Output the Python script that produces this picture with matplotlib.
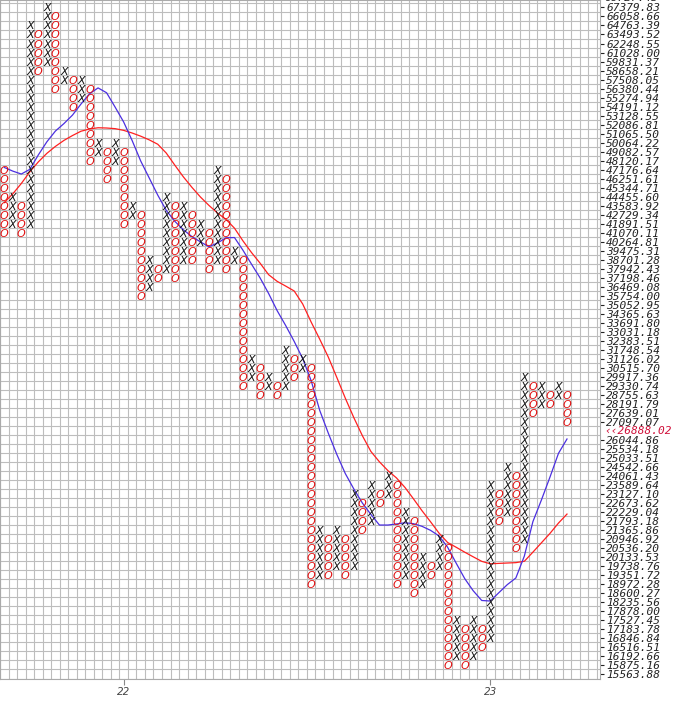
import numpy as np
import matplotlib
matplotlib.use("Agg")
import matplotlib.pyplot as plt
from matplotlib.ticker import NullFormatter

# === 箱体价位 (2% 一格, 从下到上) ===
levels = [15563.88, 15875.16, 16192.66, 16516.51, 16846.84, 17183.78, 17527.45, 17878.00,
          18235.56, 18600.27, 18972.28, 19351.72, 19738.76, 20133.53, 20536.20, 20946.92,
          21365.86, 21793.18, 22229.04, 22673.62, 23127.10, 23589.64, 24061.43, 24542.66,
          25033.51, 25534.18, 26044.86, 26565.75, 27097.07, 27639.01, 28191.79, 28755.63,
          29330.74, 29917.36, 30515.70, 31126.02, 31748.54, 32383.51, 33031.18, 33691.80,
          34365.63, 35052.95, 35754.00, 36469.08, 37198.46, 37942.43, 38701.28, 39475.31,
          40264.81, 41070.11, 41891.51, 42729.34, 43583.92, 44455.60, 45344.71, 46251.61,
          47176.64, 48120.17, 49082.57, 50064.22, 51065.50, 52086.81, 53128.55, 54191.12,
          55274.94, 56380.44, 57508.05, 58658.21, 59831.37, 61028.00, 62248.55, 63493.52,
          64763.39, 66058.66, 67379.83, 68727.43]

# === 每列: 类型, 最高格, 最低格 ===
col_kind = list("OXOXOXOXOXOXOXOXOXOXOXOXOXOXOXOXOXOXOXOXOXOXOXOXOXOXOXOXOXOXOXOXOXO")
col_top = [56, 53, 52, 72, 71, 74, 73, 67, 66, 66, 65, 59, 58, 59, 58, 52, 51, 46, 45, 53,
           52, 52, 51, 50, 49, 56, 55, 47, 46, 35, 34, 33, 32, 36, 35, 35, 34, 16, 15, 16,
           15, 20, 19, 21, 20, 22, 21, 18, 17, 13, 12, 15, 14, 6, 5, 6, 5, 21, 20, 23,
           22, 33, 32, 32, 31, 32, 31]
col_bot = [49, 50, 49, 50, 67, 68, 65, 66, 63, 64, 57, 58, 55, 57, 50, 51, 42, 43, 44, 45,
           44, 46, 46, 48, 45, 46, 45, 46, 32, 33, 31, 32, 31, 32, 33, 34, 10, 11, 11, 12,
           11, 12, 16, 17, 19, 20, 10, 11, 9, 10, 11, 12, 1, 2, 1, 2, 3, 4, 17, 18,
           14, 15, 29, 30, 30, 31, 28]

# === 均线 (每列一个值) ===
ma_fast = [47400, 47020, 46719, 47205, 48731, 50154, 51351, 52201, 53182, 54494,
           55734, 56459, 55861, 54127, 52389, 50284, 48082, 46316, 44607, 43127,
           42109, 41337, 40720, 40249, 39819, 40142, 40607, 40631, 39507, 38318,
           37184, 35933, 34603, 33490, 32339, 31138, 29650, 27783, 26433, 25226,
           24181, 23375, 22665, 22105, 21595, 21595, 21646, 21701, 21659, 21533,
           21343, 21081, 20565, 19859, 19198, 18689, 18294, 18272, 18608, 18944,
           19221, 20174, 21757, 22819, 23993, 25281, 26092]
ma_slow = [43872, 44731, 45757, 46950, 47988, 48895, 49647, 50304, 50845, 51331,
           51581, 51724, 51694, 51622, 51428, 51127, 50775, 50365, 49883, 48924,
           47644, 46437, 45381, 44425, 43610, 42883, 42289, 41477, 40329, 39309,
           38409, 37448, 36903, 36520, 36129, 35109, 33732, 32493, 31244, 29876,
           28539, 27344, 26282, 25386, 24815, 24338, 23951, 23453, 22871, 22282,
           21748, 21209, 20781, 20565, 20345, 20137, 19938, 19830, 19849, 19865,
           19881, 19942, 20345, 20768, 21200, 21688, 22122]

year_cols = [14, 57]
year_labels = ["22", "23"]
last_price = 26888.02
last_box = 27

# === 画图 ===
W, H = 673, 704
fig = plt.figure(figsize=(W / 100, H / 100), dpi=100)
ax = fig.add_axes([0, 25.5 / H, 600 / W, 678.5 / H])
ax.set_yscale("log")

step = levels[1] / levels[0]
ncols = len(col_kind)
for c in range(ncols):
    kind = col_kind[c]
    color = "#111111" if kind == "X" else "#e01010"
    for k in range(col_bot[c], col_top[c] + 1):
        ax.text(c, levels[k], kind, ha="center", va="center_baseline", fontsize=8,
                style="italic", color=color, family="DejaVu Sans")

cols = np.arange(ncols)
ax.plot(cols, ma_slow, color="#ff2020", lw=0.9)
ax.plot(cols, ma_fast, color="#4b2fe0", lw=0.9)

ax.set_xlim(-0.47, 69.87)
ax.set_ylim(levels[0] / np.sqrt(step), levels[74] * step ** 0.83)

# 网格
xb = np.arange(-0.5, 70.5, 1.0)
yb = [levels[0] / np.sqrt(step)] + [np.sqrt(levels[i] * levels[i + 1]) for i in range(len(levels) - 1)]
ax.set_xticks(xb, minor=True)
ax.set_yticks(yb, minor=True)
ax.xaxis.set_minor_formatter(NullFormatter())
ax.yaxis.set_minor_formatter(NullFormatter())
ax.grid(which="minor", color="#bdbdbd", lw=0.8)
ax.grid(which="major", visible=False)
ax.tick_params(which="minor", length=0)
ax.set_axisbelow(True)

# 右侧价格
ax.yaxis.tick_right()
ticks = [levels[k] for k in range(75) if k != last_box]
ax.set_yticks(ticks)
ax.set_yticklabels([f"{v:.2f}" for v in ticks], family="DejaVu Sans Mono", style="oblique",
                   fontsize=8)
ax.tick_params(axis="y", which="major", length=3, width=0.8, pad=1.5, colors="#222222")
tr = ax.get_yaxis_transform()
ax.text(1.0 + 4.5 / 600, levels[last_box], "‹‹" + f"{last_price:.2f}", transform=tr,
        ha="left", va="center", fontsize=8, family="DejaVu Sans Mono", style="oblique",
        color="#d0103a", clip_on=False)
ax.text(1.0 + 4.5 / 600, levels[75], f"{levels[75]:.2f}", transform=tr, ha="left",
        va="center", fontsize=8, family="DejaVu Sans Mono", style="oblique",
        color="#222222", clip_on=False)

# 年份
ax.set_xticks(year_cols)
ax.set_xticklabels(year_labels, style="italic", fontsize=7.5, color="#444444")
ax.tick_params(axis="x", which="major", length=4, width=0.8, color="#888888", pad=2)

for s in ax.spines.values():
    s.set_color("#aaaaaa")
    s.set_linewidth(0.8)

fig.savefig("out.png", dpi=100)
